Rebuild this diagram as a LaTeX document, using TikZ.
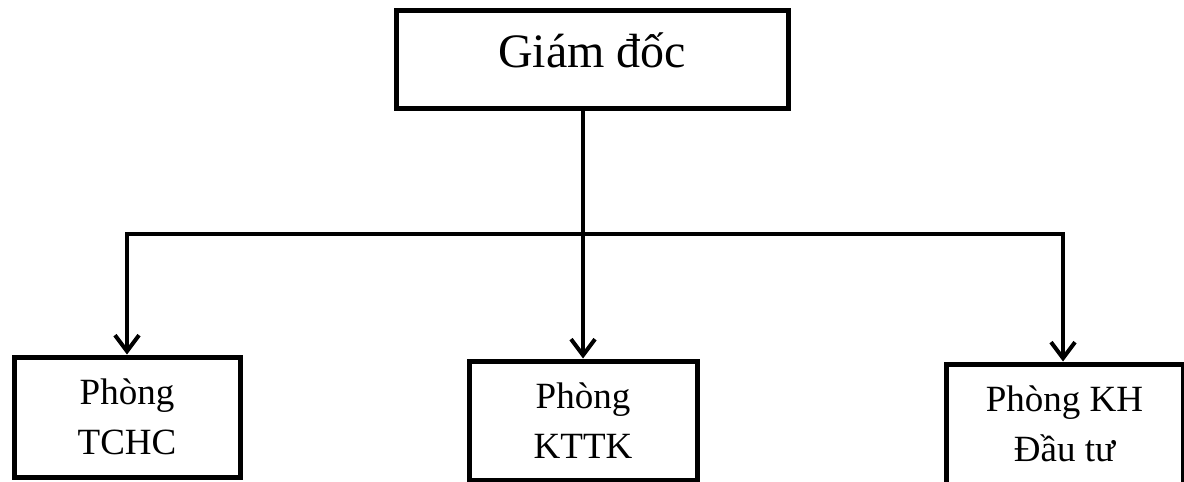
\documentclass[tikz,border=0pt]{standalone}
\usepackage{fontspec}
\setmainfont{Liberation Serif}
\usetikzlibrary{arrows.meta}

\begin{document}
\begin{tikzpicture}[x=1pt,y=1pt,
  unitbox/.style={draw=black, line width=5pt, fill=white, rectangle,
    inner sep=0pt, align=center, line join=miter},
  headbox/.style={unitbox, font=\fontsize{48}{58}\selectfont},
  deptbox/.style={unitbox, font=\fontsize{37}{50}\selectfont},
  link/.style={draw=black, line width=4pt, line join=miter,
    -{Straight Barb[length=16pt,width=24pt,line width=4pt]}}
]
\useasboundingbox (0,0) rectangle (1184,-482);

% management box
\node[headbox, minimum width=392pt, minimum height=98pt] (head) at (592,-59.5) {};
\node[anchor=base, font=\fontsize{48}{58}\selectfont] (headtext) at (592,-67) {Giám đốc};

% departments
\node[deptbox, minimum width=226pt, minimum height=120pt] (tchc) at (127,-417) {Phòng\\TCHC};
\node[deptbox, minimum width=228pt, minimum height=119pt] (kttk) at (583,-420.5) {Phòng\\KTTK};
\node[deptbox, minimum width=237pt, minimum height=120pt] (khdt) at (1064.5,-424) {Phòng KH\\Đầu tư};

% distribution line
\coordinate (bus) at (583,-234);
\draw[link] (head.south -| kttk.north) -- (kttk.north);
\draw[link] (bus) -| (tchc.north);
\draw[link] (bus) -| ([xshift=-1.5pt]khdt.north);
\end{tikzpicture}
\end{document}
